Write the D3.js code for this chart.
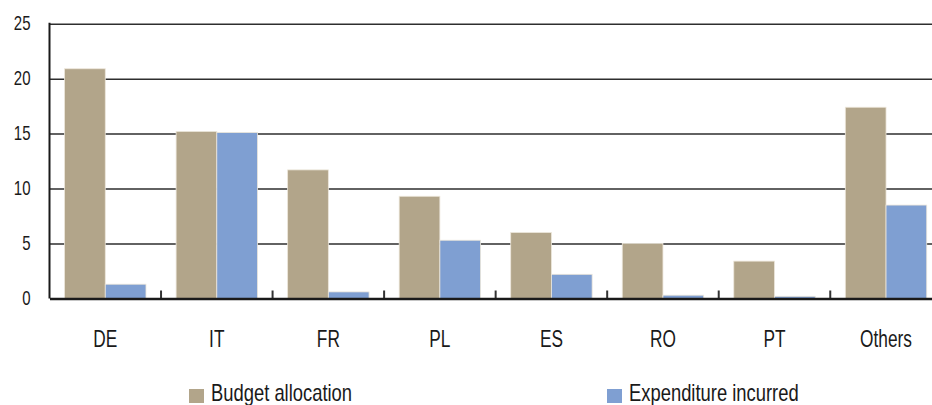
<!DOCTYPE html>
<html>
<head>
<meta charset="utf-8">
<script src="https://cdn.jsdelivr.net/npm/d3@7"></script>
<style>
  body { margin: 0; background: #fff; }
  svg { display: block; font-family: "Liberation Sans", Arial, sans-serif; }
</style>
</head>
<body>
<svg id="chart" width="932" height="405"></svg>
<script>
const countries = ['DE', 'IT', 'FR', 'PL', 'ES', 'RO', 'PT', 'Others'];
const budgetAllocation = [20.9, 15.2, 11.7, 9.3, 6.0, 5.0, 3.4, 17.4];
const expenditureIncurred = [1.3, 15.1, 0.6, 5.3, 2.2, 0.3, 0.2, 8.5];
const seriesNames = ['Budget allocation', 'Expenditure incurred'];
const seriesColors = ['#b2a58a', '#7f9fd2'];
const yTicks = [0, 5, 10, 15, 20, 25];

const svg = d3.select('#chart');

const plot = { left: 49.5, right: 941.8, top: 23.7, bottom: 298.5 };

// no condensed font installed, so squeeze text horizontally around its anchor
function condense(sel, sx, yPos) {
  sel.each(function () {
    const t = d3.select(this);
    const tx = +t.attr('x') || 0;
    const ty = yPos != null ? yPos : (+t.attr('y') || 0);
    t.attr('x', 0).attr('y', 0)
      .attr('transform', `translate(${tx},${ty}) scale(${sx},1)`);
  });
}

const x = d3.scaleBand()
  .domain(countries)
  .range([plot.left, plot.right])
  .padding(0);

const x1 = d3.scaleBand()
  .domain(seriesNames)
  .range([0, x.bandwidth()])
  .paddingInner(0)
  .paddingOuter(0.37);

const y = d3.scaleLinear()
  .domain([0, 25])
  .range([plot.bottom, plot.top]);

// gridlines
const grid = svg.append('g')
  .attr('transform', `translate(${plot.left},0)`)
  .call(d3.axisLeft(y).tickValues(yTicks.slice(1)).tickSize(-(plot.right - plot.left)).tickFormat(''));
grid.select('.domain').remove();
grid.selectAll('line').attr('stroke', '#2e2e2e').attr('stroke-width', 1.5);

// bars
const rows = countries.map((c, i) => ({ c, vals: [budgetAllocation[i], expenditureIncurred[i]] }));
const groups = svg.append('g').selectAll('g')
  .data(rows)
  .join('g')
  .attr('transform', d => `translate(${x(d.c)},0)`);

groups.selectAll('rect')
  .data(d => d.vals.map((v, k) => ({ v, k })))
  .join('rect')
  .attr('x', d => x1(seriesNames[d.k]))
  .attr('width', x1.bandwidth())
  .attr('y', d => y(d.v))
  .attr('height', d => y(0) - y(d.v))
  .attr('fill', d => seriesColors[d.k])
  .attr('stroke', '#ece6da')
  .attr('stroke-width', 0.8);

// y axis labels
const yAxis = svg.append('g')
  .attr('transform', `translate(${plot.left},0)`)
  .call(d3.axisLeft(y).tickValues(yTicks).tickSize(0).tickPadding(19));
yAxis.select('.domain').remove();
yAxis.selectAll('text')
  .attr('font-size', 20)
  .attr('font-family', '"Liberation Sans", Arial, sans-serif')
  .attr('fill', '#1a1a1a')
  .attr('dy', '5.5px')
  .call(condense, 0.75);

// left axis line
svg.append('line')
  .attr('x1', plot.left).attr('x2', plot.left)
  .attr('y1', y(25) - 1).attr('y2', y(0))
  .attr('stroke', '#1a1a1a').attr('stroke-width', 2);

// x axis: category separators as inner ticks
const sepScale = d3.scalePoint().domain(d3.range(countries.length + 1)).range([plot.left, plot.right]);
svg.append('g')
  .selectAll('line')
  .data(d3.range(1, countries.length))
  .join('line')
  .attr('x1', d => sepScale(d)).attr('x2', d => sepScale(d))
  .attr('y1', y(0) - 8).attr('y2', y(0))
  .attr('stroke', '#333').attr('stroke-width', 2);

const xAxis = svg.append('g')
  .attr('transform', `translate(0,${y(0)})`)
  .call(d3.axisBottom(x).tickSize(0));
xAxis.select('.domain').attr('stroke', '#1a1a1a').attr('stroke-width', 2.5);
xAxis.selectAll('text')
  .attr('font-size', 24)
  .attr('font-family', '"Liberation Sans", Arial, sans-serif')
  .attr('fill', '#1a1a1a')
  .attr('dy', null)
  .call(condense, 0.72, 347.3 - plot.bottom);

// legend
const legendX = [189, 607];
const legend = svg.append('g').selectAll('g')
  .data(seriesNames)
  .join('g')
  .attr('transform', (d, i) => `translate(${legendX[i]},389)`);
legend.append('rect')
  .attr('width', 15).attr('height', 14)
  .attr('fill', (d, i) => seriesColors[i]);
legend.append('text')
  .attr('x', 22).attr('y', 11.7)
  .attr('font-size', 23)
  .attr('fill', '#1a1a1a')
  .text(d => d)
  .call(condense, 0.8);
</script>
</body>
</html>
